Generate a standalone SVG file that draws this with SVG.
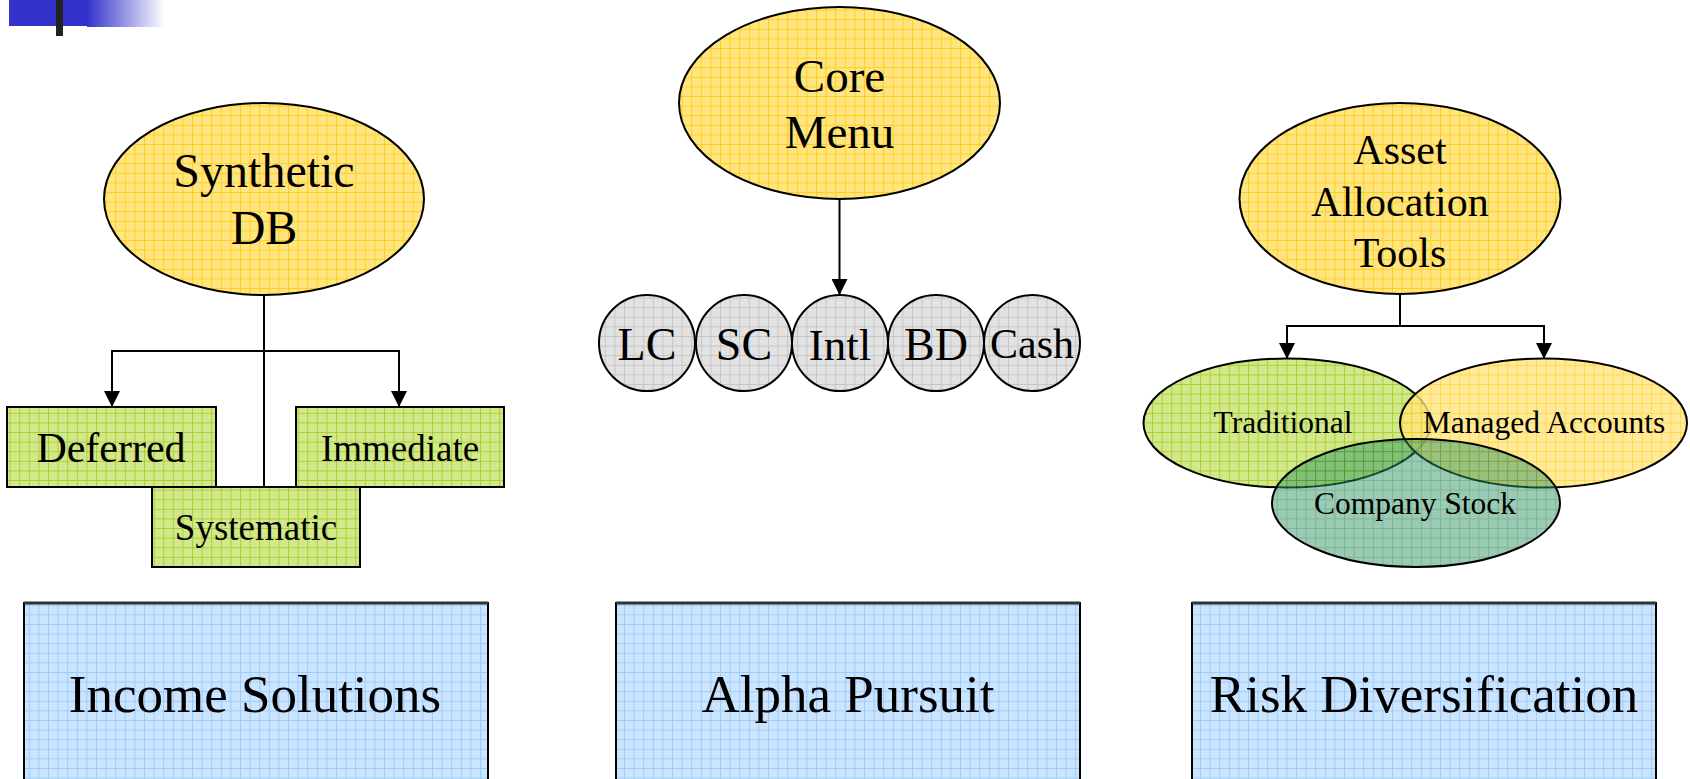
<svg xmlns="http://www.w3.org/2000/svg" width="1690" height="779" viewBox="0 0 1690 779">
<defs>
<linearGradient id="hdrGrad" x1="0" y1="0" x2="1" y2="0">
<stop offset="0" stop-color="#3333CC"/>
<stop offset="1" stop-color="#3333CC" stop-opacity="0"/>
</linearGradient>
<pattern id="pYellow" patternUnits="userSpaceOnUse" width="9.6" height="9.6">
<rect width="9.6" height="9.6" fill="#FFE582"/>
<path d="M0,0.5 H9.6 M0.5,0 V9.6" stroke="#FFCF1A" stroke-width="1" fill="none"/>
</pattern>
<pattern id="pGreen" patternUnits="userSpaceOnUse" width="9.6" height="9.6">
<rect width="9.6" height="9.6" fill="#D2E88A"/>
<path d="M0,0.5 H9.6 M0.5,0 V9.6" stroke="#A9D133" stroke-width="1" fill="none"/>
</pattern>
<pattern id="pGrey" patternUnits="userSpaceOnUse" width="9.6" height="9.6">
<rect width="9.6" height="9.6" fill="#E2E2E2"/>
<path d="M0,0.5 H9.6 M0.5,0 V9.6" stroke="#C6C6C6" stroke-width="1" fill="none"/>
</pattern>
<pattern id="pBlue" patternUnits="userSpaceOnUse" width="9.6" height="9.6">
<rect width="9.6" height="9.6" fill="#CCE5FF"/>
<path d="M0,0.5 H9.6 M0.5,0 V9.6" stroke="#9DCBFA" stroke-width="1" fill="none"/>
</pattern>
<pattern id="pTeal" patternUnits="userSpaceOnUse" width="9.6" height="9.6">
<rect width="9.6" height="9.6" fill="#339966"/>
<path d="M0,0.5 H9.6 M0.5,0 V9.6" stroke="#006633" stroke-width="1" fill="none"/>
</pattern>
<marker id="arrow" markerUnits="userSpaceOnUse" markerWidth="16" markerHeight="16" viewBox="0 0 16 16" refX="16" refY="8" orient="auto">
<path d="M0,0 L16,8 L0,16 z" fill="#000"/>
</marker>
</defs>
<style>
.lbl{font-family:"Liberation Serif","Times New Roman",serif;fill:#000;text-anchor:middle}
.shape{stroke:#000;stroke-width:2}
.conn{stroke:#000;stroke-width:2;fill:none}
</style>
<rect width="1690" height="779" fill="#FFFFFF"/>

<g id="header">
<rect x="9" y="0" width="78" height="26" fill="#3333CC"/>
<rect x="87" y="0" width="78" height="27" fill="url(#hdrGrad)"/>
<rect x="56" y="0" width="7" height="36" fill="#222222"/>
</g>

<g id="connectors">
<path class="conn" d="M264,295 V487"/>
<path class="conn" d="M264,351 H112 V407" marker-end="url(#arrow)"/>
<path class="conn" d="M264,351 H399 V407" marker-end="url(#arrow)"/>
<path class="conn" d="M839.5,199 V295" marker-end="url(#arrow)"/>
<path class="conn" d="M1400,294 V326"/>
<path class="conn" d="M1400,326 H1287 V359" marker-end="url(#arrow)"/>
<path class="conn" d="M1400,326 H1544 V359" marker-end="url(#arrow)"/>
</g>

<g id="synthetic-db">
<ellipse class="shape" cx="264" cy="199" rx="160" ry="96" fill="url(#pYellow)"/>
<text class="lbl" x="264" y="187" font-size="48">Synthetic</text>
<text class="lbl" x="264" y="244" font-size="48">DB</text>
</g>
<g id="deferred">
<rect class="shape" x="7" y="407" width="209" height="80" fill="url(#pGreen)"/>
<text class="lbl" x="111" y="462" font-size="42">Deferred</text>
</g>
<g id="immediate">
<rect class="shape" x="296" y="407" width="208" height="80" fill="url(#pGreen)"/>
<text class="lbl" x="400" y="461" font-size="37">Immediate</text>
</g>
<g id="systematic">
<rect class="shape" x="152" y="487" width="208" height="80" fill="url(#pGreen)"/>
<text class="lbl" x="256" y="540" font-size="37">Systematic</text>
</g>

<g id="core-menu">
<ellipse class="shape" cx="839.5" cy="103" rx="160.5" ry="96" fill="url(#pYellow)"/>
<text class="lbl" x="839.5" y="92" font-size="47">Core</text>
<text class="lbl" x="839.5" y="148" font-size="47">Menu</text>
</g>
<g id="lc">
<circle class="shape" cx="647" cy="343" r="48" fill="url(#pGrey)"/>
<text class="lbl" x="647" y="360" font-size="46">LC</text>
</g>
<g id="sc">
<circle class="shape" cx="744" cy="343" r="48" fill="url(#pGrey)"/>
<text class="lbl" x="744" y="360" font-size="46">SC</text>
</g>
<g id="intl">
<circle class="shape" cx="840" cy="343" r="48" fill="url(#pGrey)"/>
<text class="lbl" x="840" y="360" font-size="45">Intl</text>
</g>
<g id="bd">
<circle class="shape" cx="936" cy="343" r="48" fill="url(#pGrey)"/>
<text class="lbl" x="936" y="360" font-size="46">BD</text>
</g>
<g id="cash">
<circle class="shape" cx="1032" cy="343" r="48" fill="url(#pGrey)"/>
<text class="lbl" x="1032" y="358" font-size="42">Cash</text>
</g>

<g id="asset-allocation-tools">
<ellipse class="shape" cx="1400" cy="198.5" rx="160.5" ry="95.5" fill="url(#pYellow)"/>
<text class="lbl" x="1400" y="164" font-size="42">Asset</text>
<text class="lbl" x="1400" y="216" font-size="42">Allocation</text>
<text class="lbl" x="1400" y="267" font-size="42">Tools</text>
</g>
<g id="traditional">
<ellipse class="shape" cx="1287" cy="423" rx="143.5" ry="64.5" fill="url(#pGreen)"/>
</g>
<g id="managed-accounts">
<ellipse cx="1543.5" cy="423" rx="143.5" ry="64.5" fill="url(#pYellow)" opacity="0.8"/>
<ellipse class="shape" cx="1543.5" cy="423" rx="143.5" ry="64.5" fill="none"/>
</g>
<g id="company-stock">
<ellipse cx="1416" cy="503" rx="144" ry="64" fill="url(#pTeal)" opacity="0.5"/>
<ellipse class="shape" cx="1416" cy="503" rx="144" ry="64" fill="none"/>
</g>
<g id="ellipse-labels">
<text class="lbl" x="1283" y="433" font-size="31.5">Traditional</text>
<text class="lbl" x="1544" y="433" font-size="31.5">Managed Accounts</text>
<text class="lbl" x="1415" y="514" font-size="31.5">Company Stock</text>
</g>

<g id="income-solutions">
<rect class="shape" x="24" y="603" width="464" height="200" fill="url(#pBlue)"/>
<path d="M24,603 H488" stroke="#333333" stroke-width="3"/>
<text class="lbl" x="255" y="712" font-size="53">Income Solutions</text>
</g>
<g id="alpha-pursuit">
<rect class="shape" x="616" y="603" width="464" height="200" fill="url(#pBlue)"/>
<path d="M616,603 H1080" stroke="#333333" stroke-width="3"/>
<text class="lbl" x="848" y="712" font-size="53">Alpha Pursuit</text>
</g>
<g id="risk-diversification">
<rect class="shape" x="1192" y="603" width="464" height="200" fill="url(#pBlue)"/>
<path d="M1192,603 H1656" stroke="#333333" stroke-width="3"/>
<text class="lbl" x="1424" y="712" font-size="53">Risk Diversification</text>
</g>
</svg>
